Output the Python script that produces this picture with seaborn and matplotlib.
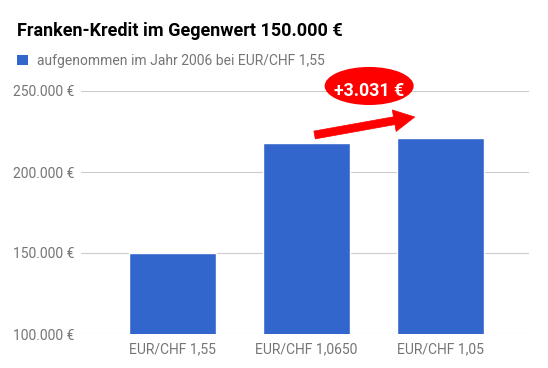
import matplotlib
matplotlib.use("Agg")
import matplotlib.pyplot as plt
from matplotlib.patches import Ellipse, Patch
from matplotlib.ticker import FuncFormatter
import pandas as pd
import seaborn as sns

# Daten
kurse = ["EUR/CHF 1,55", "EUR/CHF 1,0650", "EUR/CHF 1,05"]
kredit_eur = [150000, 218000, 221031]
serie = "aufgenommen im Jahr 2006 bei EUR/CHF 1,55"
y_ticks = [100000, 150000, 200000, 250000]
differenz = "+3.031 €"

df = pd.DataFrame({"Kurs": kurse, "Betrag": kredit_eur})

sns.set_style("white")
plt.rcParams["font.family"] = ["Roboto", "DejaVu Sans"]

blau = "#3366cc"
grau = "#757575"

fig = plt.figure(figsize=(5.48, 3.68), dpi=100)
ax = fig.add_axes([81 / 548, 1 - 334 / 368, 448.3 / 548, 243 / 368])

sns.barplot(data=df, x="Kurs", y="Betrag", color=blau, saturation=1, width=0.65, ax=ax, zorder=2)

ax.set_ylim(100000, 250000)
ax.set_xlim(-0.68, 2.665)
ax.set_yticks(y_ticks)
ax.yaxis.set_major_formatter(FuncFormatter(lambda v, p: f"{v:,.0f} €".replace(",", ".")))
ax.grid(axis="y", color="#cccccc", linewidth=0.8, zorder=0)
ax.set_axisbelow(True)
sns.despine(ax=ax, left=True, bottom=True, top=True, right=True)
ax.tick_params(axis="both", length=0, labelsize=10, labelcolor=grau)
ax.tick_params(axis="y", pad=4.5)
ax.tick_params(axis="x", pad=6)
ax.set_xlabel("")
ax.set_ylabel("")

# Titel
fig.text(17 / 548, 1 - 36 / 368, "Franken-Kredit im Gegenwert 150.000 €",
         fontsize=13, fontweight="bold", color="black", va="baseline", ha="left")

# Legende
ax.legend(handles=[Patch(facecolor=blau, edgecolor="none", label=serie)],
          loc="upper left", bbox_to_anchor=(17 / 548, 1 - 54 / 368),
          bbox_transform=fig.transFigure, frameon=False, fontsize=10,
          labelcolor=grau, borderpad=0, borderaxespad=0,
          handlelength=0.8, handleheight=0.8, handletextpad=0.65)

# Markierung der Differenz
ell = Ellipse((1.47, 253100), width=0.664, height=23500, facecolor="#ff0000",
              edgecolor="none", clip_on=False, zorder=5)
ax.add_patch(ell)
ax.text(1.47, 251000, differenz, color="white", fontsize=12.8, fontweight="bold",
        ha="center", va="center_baseline", zorder=6, clip_on=False)

ax.annotate("", xy=(1.81, 233950), xytext=(1.063, 222840),
            arrowprops=dict(arrowstyle="simple,head_length=1.0,head_width=1.05,tail_width=0.38",
                            mutation_scale=15, color="#ff0000", shrinkA=0, shrinkB=0,
                            linewidth=0.5, joinstyle="round"),
            annotation_clip=False, zorder=5)

fig.savefig("out.png", dpi=100)
